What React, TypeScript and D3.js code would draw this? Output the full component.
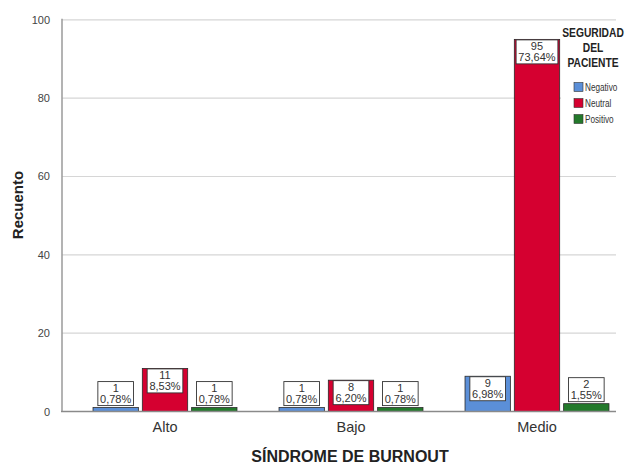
import React from "react";
import * as d3 from "d3";

// Counts per burnout level, split by patient-safety rating
const categories = ["Alto", "Bajo", "Medio"];
const seriesNames = ["Negativo", "Neutral", "Positivo"];
const negativo = [1, 1, 9];
const neutral = [11, 8, 95];
const positivo = [1, 1, 2];
const seriesColors = ["#5b8fd8", "#d50030", "#23792b"];
const yTicks = [0, 20, 40, 60, 80, 100];

const W = 626;
const H = 465;
const FONT = "'Liberation Sans', Arial, Helvetica, sans-serif";

const plotLeft = 62;
const plotRight = 616;
const plotTop = 19.8;
const plotBottom = 411.5;

const seriesValues = [negativo, neutral, positivo];
const total = d3.sum(seriesValues.flat());

// Approximate Arial advance widths for label box sizing
const charWidth = (c: string) =>
  c === "," || c === "." ? 0.278 : c === "%" ? 0.889 : 0.556;
const textWidth = (s: string, size: number) =>
  s.split("").reduce((a, c) => a + charWidth(c), 0) * size;

const fmtPct = (v: number) =>
  ((v / total) * 100).toFixed(2).replace(".", ",") + "%";

export default function App() {
  const y = d3.scaleLinear().domain([0, 100]).range([plotBottom, plotTop]);
  const x0 = d3
    .scaleBand<string>()
    .domain(categories)
    .range([72, 630])
    .paddingInner(0.226)
    .paddingOuter(0.113);
  const x1 = d3
    .scaleBand<string>()
    .domain(seriesNames)
    .range([0, x0.bandwidth()])
    .paddingInner(0.08);

  const labelSize = 11;
  const boxH = 24;

  return (
    <svg
      width={W}
      height={H}
      style={{ position: "absolute", left: 0, top: 0, background: "#fff" }}
      fontFamily={FONT}
    >
      <rect x={0} y={0} width={W} height={H} fill="#fff" />
      {/* gridlines */}
      {yTicks.slice(1).map((t) => (
        <line
          key={t}
          x1={plotLeft}
          x2={plotRight}
          y1={y(t)}
          y2={y(t)}
          stroke="#d6d6d6"
          strokeWidth={1.2}
        />
      ))}
      {/* y axis */}
      <line
        x1={plotLeft}
        x2={plotLeft}
        y1={plotTop - 1}
        y2={plotBottom}
        stroke="#9a9a9a"
        strokeWidth={1.5}
      />
      {yTicks.map((t) => (
        <text
          key={t}
          x={50}
          y={y(t) + 4}
          textAnchor="end"
          fontSize={11}
          fill="#444"
        >
          {t}
        </text>
      ))}
      <text
        transform={`translate(23,${205}) rotate(-90)`}
        textAnchor="middle"
        fontSize={15}
        fontWeight="bold"
        fill="#222"
      >
        Recuento
      </text>

      {/* legend panel */}
      <rect x={561} y={23} width={65} height={106} fill="#fff" />
      <g transform="translate(593,0) scale(0.79,1)" fontWeight="bold" fontSize={13} fill="#222">
        <text x={0} y={37} textAnchor="middle">SEGURIDAD</text>
        <text x={0} y={52} textAnchor="middle">DEL</text>
        <text x={0} y={67} textAnchor="middle">PACIENTE</text>
      </g>
      {seriesNames.map((s, i) => (
        <g key={s} transform={`translate(574,${87 + i * 16})`}>
          <rect
            x={0}
            y={-4.5}
            width={9}
            height={9}
            fill={seriesColors[i]}
            stroke="#333"
            strokeWidth={0.6}
          />
          <text
            transform="translate(11,4) scale(0.78,1)"
            fontSize={10.5}
            fill="#333"
          >
            {s}
          </text>
        </g>
      ))}

      {/* bars */}
      {categories.map((c, ci) => (
        <g key={c} transform={`translate(${x0(c)},0)`}>
          {seriesNames.map((s, si) => {
            const v = seriesValues[si][ci];
            const bx = x1(s)!;
            const bw = x1.bandwidth();
            const top = y(v);
            const bh = plotBottom - top;
            const pct = fmtPct(v);
            const boxW = textWidth(pct, labelSize) + 4.5;
            const boxTop = bh >= boxH ? top + 0.5 : top - 2 - boxH;
            const cx = bx + bw / 2;
            return (
              <g key={s}>
                <rect
                  x={bx}
                  y={top}
                  width={bw}
                  height={bh}
                  fill={seriesColors[si]}
                  stroke="#2a2a2a"
                  strokeWidth={0.8}
                />
                <rect
                  x={cx - boxW / 2}
                  y={boxTop}
                  width={boxW}
                  height={boxH}
                  fill="#fff"
                  stroke="#333"
                  strokeWidth={0.9}
                />
                <text
                  x={cx}
                  y={boxTop + 10}
                  textAnchor="middle"
                  fontSize={labelSize}
                  fill="#333"
                >
                  {v}
                </text>
                <text
                  x={cx}
                  y={boxTop + 21.5}
                  textAnchor="middle"
                  fontSize={labelSize}
                  fill="#333"
                >
                  {pct}
                </text>
              </g>
            );
          })}
          <text
            x={x0.bandwidth() / 2}
            y={432}
            textAnchor="middle"
            fontSize={14.5}
            fill="#333"
          >
            {c}
          </text>
        </g>
      ))}

      {/* baseline */}
      <line
        x1={plotLeft - 1}
        x2={plotRight}
        y1={plotBottom}
        y2={plotBottom}
        stroke="#8a8a8a"
        strokeWidth={1.3}
      />

      <text
        x={350}
        y={462}
        textAnchor="middle"
        fontSize={16}
        fontWeight="bold"
        fill="#222"
      >
        SÍNDROME DE BURNOUT
      </text>
    </svg>
  );
}
